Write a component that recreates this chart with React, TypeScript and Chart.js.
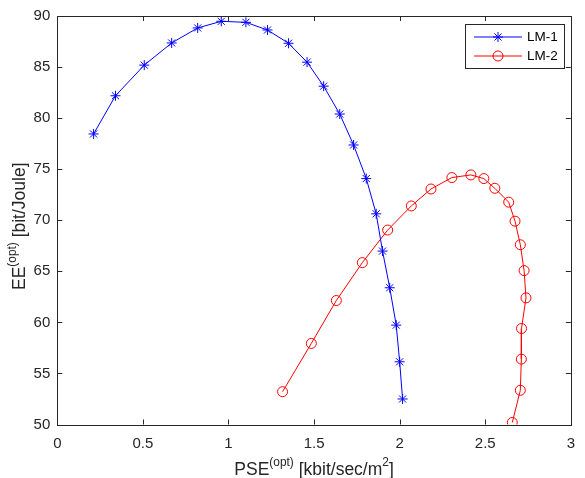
import React, { useEffect, useRef } from "react";
import { Chart, registerables } from "chart.js";

Chart.register(...registerables);

const lm1X = [0.212, 0.34, 0.508, 0.668, 0.82, 0.958, 1.102, 1.228, 1.351, 1.459, 1.556, 1.65, 1.731, 1.805, 1.863, 1.9, 1.942, 1.98, 2.0, 2.017];
const lm1Y = [78.45, 82.19, 85.19, 87.36, 88.83, 89.48, 89.38, 88.63, 87.33, 85.48, 83.13, 80.4, 77.37, 74.08, 70.63, 66.98, 63.39, 59.73, 56.14, 52.5];
const lm2X = [1.316, 1.484, 1.63, 1.782, 1.93, 2.068, 2.183, 2.305, 2.416, 2.492, 2.556, 2.637, 2.674, 2.705, 2.727, 2.738, 2.712, 2.711, 2.705, 2.658];
const lm2Y = [53.21, 57.94, 62.14, 65.85, 69.04, 71.4, 73.06, 74.18, 74.44, 74.08, 73.13, 71.77, 69.91, 67.6, 65.07, 62.4, 59.4, 56.4, 53.35, 50.2];

const seriesNames = ["LM-1", "LM-2"];
const xTitleParts = [{ t: "PSE" }, { t: "(opt)", sup: true }, { t: " [kbit/sec/m" }, { t: "2", sup: true }, { t: "]" }];
const yTitleParts = [{ t: "EE" }, { t: "(opt)", sup: true }, { t: " [bit/Joule]" }];

const FONT = "'Liberation Sans', Arial, Helvetica, sans-serif";
const AX = "#262626";

type Part = { t: string; sup?: boolean };

function drawRich(ctx: CanvasRenderingContext2D, parts: Part[], cx: number, cy: number, size: number, rot: number) {
  ctx.save();
  ctx.translate(cx, cy);
  ctx.rotate(rot);
  const supSize = size * 0.68;
  let total = 0;
  const widths = parts.map((p) => {
    ctx.font = `${p.sup ? supSize : size}px ${FONT}`;
    const w = ctx.measureText(p.t).width;
    total += w;
    return w;
  });
  let x = -total / 2;
  ctx.fillStyle = AX;
  ctx.textBaseline = "alphabetic";
  ctx.textAlign = "left";
  parts.forEach((p, i) => {
    ctx.font = `${p.sup ? supSize : size}px ${FONT}`;
    ctx.fillText(p.t, x, p.sup ? -size * 0.5 : 0);
    x += widths[i];
  });
  ctx.restore();
}

const decorPlugin = {
  id: "decor",
  afterDraw(chart: any) {
    const ctx: CanvasRenderingContext2D = chart.ctx;
    const a = chart.chartArea;
    const xs = chart.scales.x;
    const ys = chart.scales.y;
    ctx.save();
    ctx.strokeStyle = AX;
    ctx.lineWidth = 1;
    const tl = 5;
    ctx.beginPath();
    xs.ticks.forEach((t: any) => {
      const px = Math.round(xs.getPixelForValue(t.value)) + 0.5;
      ctx.moveTo(px, a.bottom);
      ctx.lineTo(px, a.bottom - tl);
      ctx.moveTo(px, a.top);
      ctx.lineTo(px, a.top + tl);
    });
    ys.ticks.forEach((t: any) => {
      const py = Math.round(ys.getPixelForValue(t.value)) + 0.5;
      ctx.moveTo(a.left, py);
      ctx.lineTo(a.left + tl, py);
      ctx.moveTo(a.right, py);
      ctx.lineTo(a.right - tl, py);
    });
    ctx.stroke();
    ctx.strokeRect(Math.round(a.left) + 0.5, Math.round(a.top) + 0.5, Math.round(a.right - a.left), Math.round(a.bottom - a.top));

    // axis titles
    drawRich(ctx, xTitleParts, (a.left + a.right) / 2, 475, 17.5, 0);
    drawRich(ctx, yTitleParts, 24.5, (a.top + a.bottom) / 2 + 6, 17.5, -Math.PI / 2);

    // legend
    const bx = 465.5, by = 24.5, bw = 99, bh = 44;
    ctx.fillStyle = "#ffffff";
    ctx.fillRect(bx, by, bw, bh);
    ctx.strokeStyle = AX;
    ctx.strokeRect(bx, by, bw, bh);
    const rows = [37, 56];
    chart.data.datasets.forEach((ds: any, i: number) => {
      const y = rows[i];
      ctx.strokeStyle = ds.borderColor;
      ctx.lineWidth = 1;
      ctx.beginPath();
      ctx.moveTo(474, y);
      ctx.lineTo(522, y);
      ctx.stroke();
      ctx.beginPath();
      if (ds.pointStyle === "star") {
        const r = 5;
        for (let k = 0; k < 4; k++) {
          const ang = (k * Math.PI) / 4;
          ctx.moveTo(498 + Math.cos(ang) * r, y + Math.sin(ang) * r);
          ctx.lineTo(498 - Math.cos(ang) * r, y - Math.sin(ang) * r);
        }
        ctx.stroke();
      } else {
        ctx.arc(498, y, 5, 0, Math.PI * 2);
        ctx.stroke();
      }
      ctx.fillStyle = "#000000";
      ctx.font = `13.5px ${FONT}`;
      ctx.textAlign = "left";
      ctx.textBaseline = "middle";
      ctx.fillText(ds.label, 527, y);
    });
    ctx.restore();
  },
};

export default function App() {
  const ref = useRef<HTMLCanvasElement | null>(null);
  useEffect(() => {
    if (!ref.current) return;
    const chart = new Chart(ref.current, {
      type: "scatter",
      data: {
        datasets: [
          {
            label: seriesNames[0],
            data: lm1X.map((x, i) => ({ x, y: lm1Y[i] })),
            showLine: true,
            borderColor: "#0000ff",
            backgroundColor: "#0000ff",
            borderWidth: 1,
            pointStyle: "star",
            pointRadius: 5,
            pointBorderWidth: 1,
            pointBorderColor: "#0000ff",
          },
          {
            label: seriesNames[1],
            data: lm2X.map((x, i) => ({ x, y: lm2Y[i] })),
            showLine: true,
            borderColor: "#ff0000",
            backgroundColor: "rgba(0,0,0,0)",
            borderWidth: 1,
            pointStyle: "circle",
            pointRadius: 5,
            pointBorderWidth: 1,
            pointBorderColor: "#ff0000",
            pointBackgroundColor: "rgba(0,0,0,0)",
          },
        ],
      },
      options: {
        animation: false,
        responsive: false,
        devicePixelRatio: 1,
        layout: { padding: { top: 15, right: 9, left: 0, bottom: 0 } },
        plugins: { legend: { display: false }, tooltip: { enabled: false } },
        scales: {
          x: {
            type: "linear",
            min: 0,
            max: 3,
            ticks: {
              stepSize: 0.5,
              color: AX,
              font: { family: FONT, size: 15 },
              padding: 10,
              maxRotation: 0,
              callback: (v: any) => String(Number(v)),
            },
            grid: { display: false, drawTicks: false },
            border: { display: false },
            afterFit: (s: any) => { s.height = 53.5; },
          },
          y: {
            type: "linear",
            min: 50,
            max: 90,
            ticks: {
              stepSize: 5,
              color: AX,
              font: { family: FONT, size: 15 },
              padding: 7,
              callback: (v: any) => String(Number(v)),
            },
            grid: { display: false, drawTicks: false },
            border: { display: false },
            afterFit: (s: any) => { s.width = 57.3; },
          },
        },
      },
      plugins: [decorPlugin],
    });
    return () => chart.destroy();
  }, []);
  return (
    <div style={{ position: "absolute", left: 0, top: 0, width: 585, height: 478, background: "#fff" }}>
      <canvas ref={ref} width={585} height={478} style={{ width: 585, height: 478 }} />
    </div>
  );
}
